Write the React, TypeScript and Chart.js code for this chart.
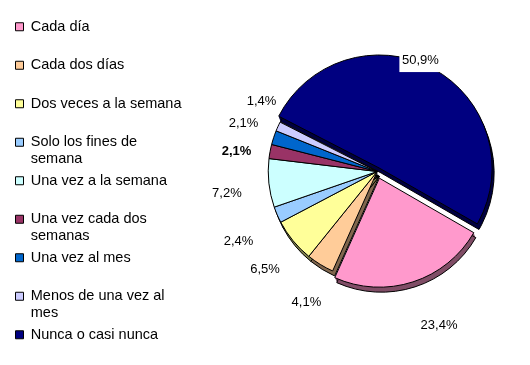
import React, { useEffect, useRef } from "react";
import { Chart, registerables } from "chart.js";

Chart.register(...registerables);

const FONT = "'Liberation Sans', Arial, sans-serif";

const categories = [
  "Cada día",
  "Cada dos días",
  "Dos veces a la semana",
  "Solo los fines de semana",
  "Una vez a la semana",
  "Una vez cada dos semanas",
  "Una vez al mes",
  "Menos de una vez al mes",
  "Nunca o casi nunca",
];

const values = [23.4, 4.1, 6.5, 2.4, 7.2, 2.1, 2.1, 1.4, 50.9];

const colors = [
  "#FF99CC",
  "#FFCC99",
  "#FFFF99",
  "#99CCFF",
  "#CCFFFF",
  "#993366",
  "#0066CC",
  "#CCCCFF",
  "#000080",
];

const shadowColors = [
  "#804D66",
  "#80664D",
  "#80804D",
  "#4D6680",
  "#668080",
  "#4D1A33",
  "#003366",
  "#666680",
  "#000040",
];

// exploded slices (Chart.js offset units)
const sliceOffsets = [28, 0, 0, 0, 0, 0, 0, 0, 16];

// label placement (styling): gap beyond radius, angular shift in degrees
const labelGap = [56.5, 40.2, 40.2, 46.3, 43, 33.1, 33, 26.3, 10.5];
const labelShift = [-4, -3.2, -1.8, -3.3, -2.3, -2.4, 1.6, 6.8, -7.3];
const labelBold = [false, false, false, false, false, true, false, false, false];
const labelBoxed = [false, false, false, false, false, false, false, false, true];

const LEGEND_FONT_SIZE = 14.5;
const LEGEND_WRAP = 156;
const LEGEND_LEFT = 10;

const fmt = (v: number) => v.toFixed(1).replace(".", ",") + "%";

function wrap(ctx: CanvasRenderingContext2D, text: string, maxW: number): string[] {
  const words = text.split(" ");
  const lines: string[] = [];
  let cur = "";
  for (const w of words) {
    const t = cur ? cur + " " + w : w;
    if (cur && ctx.measureText(t).width > maxW) {
      lines.push(cur);
      cur = w;
    } else {
      cur = t;
    }
  }
  if (cur) lines.push(cur);
  return lines;
}

// keep the legend at the left edge while the pie sits further right
const legendPlacePlugin = {
  id: "legendPlace",
  afterLayout(chart: any) {
    const lg = chart.legend;
    if (!lg) return;
    const w = lg.right - lg.left;
    lg.left = LEGEND_LEFT;
    lg.right = LEGEND_LEFT + w;
  },
};

const shadowPlugin = {
  id: "pieShadow",
  beforeDatasetsDraw(chart: any) {
    const ctx = chart.ctx as CanvasRenderingContext2D;
    const meta = chart.getDatasetMeta(0);
    const steps = 5;
    const sx = 0.4;
    const sy = 1;
    meta.data.forEach((arc: any, i: number) => {
      const p = arc.getProps(["x", "y", "startAngle", "endAngle", "outerRadius", "circumference"], true);
      const off = (arc.options.offset || 0) / 4;
      const half = (p.startAngle + p.endAngle) / 2;
      const fix = 1 - Math.sin(Math.min(Math.PI, p.circumference || 0));
      const r = p.outerRadius + off * fix;
      const cx = p.x + Math.cos(half) * off;
      const cy = p.y + Math.sin(half) * off;
      ctx.save();
      ctx.fillStyle = shadowColors[i];
      for (let s = 1; s <= steps; s++) {
        ctx.beginPath();
        ctx.moveTo(cx + s * sx, cy + s * sy);
        ctx.arc(cx + s * sx, cy + s * sy, r, p.startAngle, p.endAngle);
        ctx.closePath();
        ctx.fill();
      }
      ctx.strokeStyle = "#000";
      ctx.lineWidth = 1;
      ctx.stroke();
      ctx.restore();
    });
  },
};

const labelPlugin = {
  id: "pctLabels",
  afterDatasetsDraw(chart: any) {
    const ctx = chart.ctx as CanvasRenderingContext2D;
    const meta = chart.getDatasetMeta(0);
    const data = chart.data.datasets[0].data as number[];
    meta.data.forEach((arc: any, i: number) => {
      const p = arc.getProps(["x", "y", "startAngle", "endAngle", "outerRadius"], true);
      const a = (p.startAngle + p.endAngle) / 2 + (labelShift[i] * Math.PI) / 180;
      const d = p.outerRadius + labelGap[i];
      const tx = p.x + Math.cos(a) * d;
      const ty = p.y + Math.sin(a) * d;
      ctx.save();
      ctx.font = `${labelBold[i] ? "bold " : ""}13px ${FONT}`;
      if (labelBoxed[i]) {
        ctx.fillStyle = "#FFFFFF";
        ctx.fillRect(tx - 21, ty - 7, 43, 19);
      }
      ctx.fillStyle = "#000";
      ctx.textAlign = "center";
      ctx.textBaseline = "middle";
      ctx.fillText(fmt(data[i]), tx, ty);
      ctx.restore();
    });
  },
};

export default function App() {
  const ref = useRef<HTMLCanvasElement | null>(null);

  useEffect(() => {
    if (!ref.current) return;
    const chart = new Chart(ref.current, {
      type: "pie",
      data: {
        labels: categories,
        datasets: [
          {
            data: values,
            backgroundColor: colors,
            borderColor: "#000000",
            borderWidth: 1,
            offset: sliceOffsets,
            radius: 109,
          } as any,
        ],
      },
      options: {
        animation: false,
        responsive: false,
        events: [],
        rotation: 120,
        layout: { padding: { left: 43, top: 14, right: 0, bottom: 0 } },
        plugins: {
          legend: {
            position: "left",
            align: "start",
            labels: {
              boxWidth: 8,
              boxHeight: 8,
              padding: 5.5,
              color: "#000",
              font: { family: FONT, size: LEGEND_FONT_SIZE, lineHeight: 1.138 },
              generateLabels: (c: any) => {
                const ctx = c.ctx as CanvasRenderingContext2D;
                ctx.save();
                ctx.font = `${LEGEND_FONT_SIZE}px ${FONT}`;
                const items = categories.map((name, i) => {
                  let lines = wrap(ctx, name, LEGEND_WRAP);
                  if (lines.length === 1 && i < categories.length - 1) lines = [lines[0], ""];
                  return {
                    text: lines,
                    fillStyle: colors[i],
                    strokeStyle: "#000",
                    lineWidth: 1,
                    hidden: false,
                    index: i,
                    fontColor: "#000",
                  };
                });
                ctx.restore();
                return items as any;
              },
            },
          },
          // empty spacer box below the pie (vertical centring like the original)
          title: {
            display: true,
            position: "bottom",
            text: " ",
            font: { size: 10, lineHeight: 1.3 },
            padding: { top: 11.5, bottom: 11.5 },
          },
          tooltip: { enabled: false },
        },
      } as any,
      plugins: [legendPlacePlugin, shadowPlugin, labelPlugin],
    });
    return () => chart.destroy();
  }, []);

  return (
    <div style={{ position: "absolute", left: 0, top: 0, width: 530, height: 365, background: "#fff" }}>
      <canvas ref={ref} width={530} height={365} />
    </div>
  );
}
